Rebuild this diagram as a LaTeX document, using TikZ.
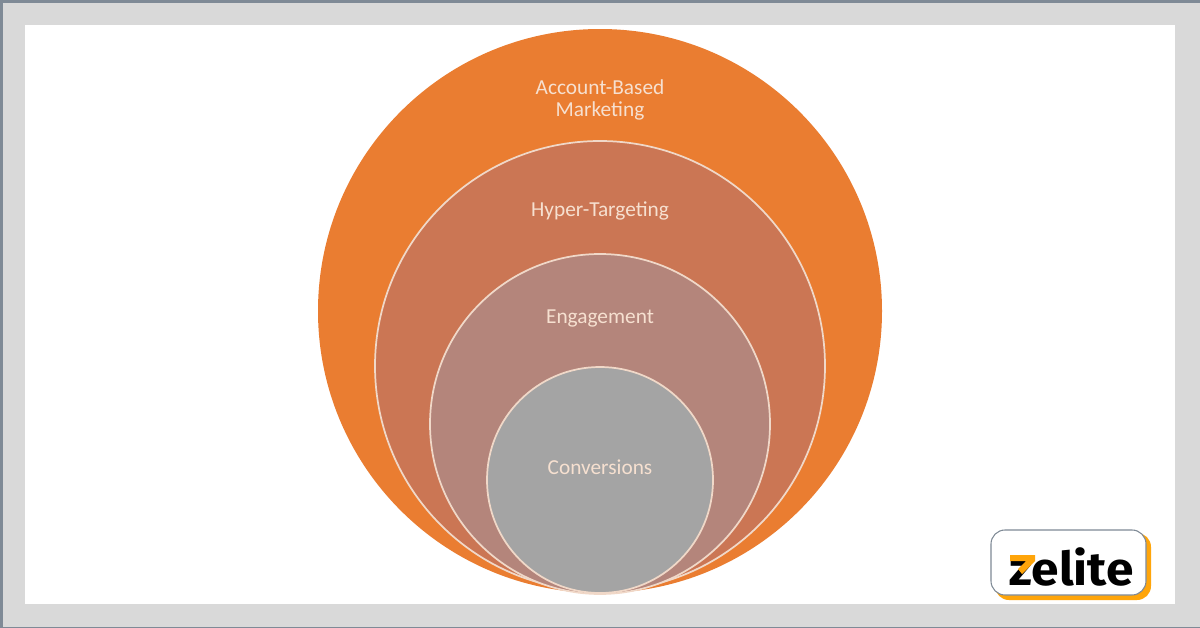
\documentclass[tikz,border=0pt]{standalone}
\usepackage{fontspec}
\setmainfont{Carlito}
\newfontfamily\logofont{Fira Sans}
\definecolor{frameband}{HTML}{D9D9D9}
\definecolor{frameline}{HTML}{7F8A96}
\definecolor{ringa}{HTML}{EA7D31}
\definecolor{ringb}{HTML}{CB7654}
\definecolor{ringc}{HTML}{B4857B}
\definecolor{ringd}{HTML}{A4A4A4}
\definecolor{ringline}{HTML}{F0D8C8}
\definecolor{labeltext}{HTML}{F6E0D0}
\definecolor{logoorange}{HTML}{FFA50A}
\tikzset{
  x=0.75pt,y=-0.75pt,
  ring/.style={draw=ringline,line width=1.3pt},
  ringlabel/.style={text=labeltext,font=\fontsize{16pt}{17pt}\selectfont,align=center,inner sep=0pt},
}
\begin{document}
\begin{tikzpicture}
\useasboundingbox (0,0) rectangle (1200,628);
\fill[frameband] (0,0) rectangle (1200,628);
\fill[frameline] (0,0) rectangle (1200,2.5);
\fill[frameline] (0,0) rectangle (2.5,628);
\fill[frameline] (0,627) rectangle (1200,628);
\fill[white] (25,25) rectangle (1175,604);
\fill[ringa] (600,311) circle (282);
\draw[ring,fill=ringb] (600,366) circle (225);
\draw[ring,fill=ringc] (600,424) circle (170);
\draw[ring,fill=ringd] (600,480) circle (113);
\node[ringlabel] (abm) at (600,100) {Account-Based\\Marketing};
\node[ringlabel] (hyper) at (600,211) {Hyper-Targeting};
\node[ringlabel] (eng) at (600,318) {Engagement};
\node[ringlabel] (conv) at (600,467) {Conversions};
\fill[logoorange,rounded corners=10.5pt] (995,533) rectangle (1151,600);
\draw[frameline,fill=white,rounded corners=10.5pt,line width=0.8pt] (991,530) rectangle (1146,595);
\node[inner sep=0pt,anchor=base west,text=black,xscale=1.13,yscale=1.06,font=\logofont\bfseries\fontsize{33pt}{33pt}\selectfont] (logo) at (1009,585) {zelite};
\fill[logoorange] (1010,555) -- (1035,555) -- (1035,561) -- (1022,574) -- (1018,569) -- (1026,561) -- (1010,561) -- cycle;
\end{tikzpicture}
\end{document}
